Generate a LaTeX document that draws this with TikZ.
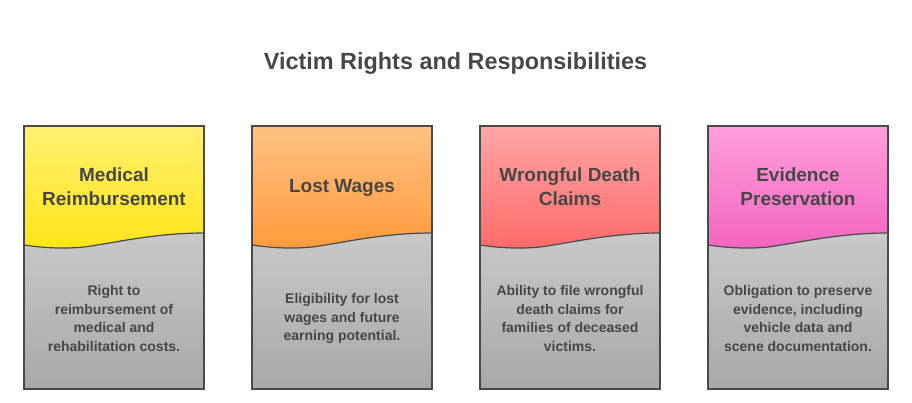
\documentclass[tikz,border=0pt]{standalone}
\usepackage{fontspec}
\setmainfont{Liberation Sans}
\definecolor{ink}{HTML}{474747}
\definecolor{frame}{HTML}{4A4A4A}
\definecolor{yellowtop}{HTML}{FFEF72}
\definecolor{yellowbot}{HTML}{FFE617}
\definecolor{orangetop}{HTML}{FFC283}
\definecolor{orangebot}{HTML}{FF9A3C}
\definecolor{redtop}{HTML}{FFA6A6}
\definecolor{redbot}{HTML}{FF6A6A}
\definecolor{pinktop}{HTML}{FF9FDB}
\definecolor{pinkbot}{HTML}{F264C0}
\definecolor{greytop}{HTML}{C9C9C9}
\definecolor{greybot}{HTML}{A8A8A8}
\begin{document}
\begin{tikzpicture}[x=1pt,y=-1pt,
	heading/.style={font=\bfseries\fontsize{19}{24}\selectfont,text=ink,align=center},
	bodytext/.style={font=\bfseries\fontsize{14}{18.6}\selectfont,text=ink,align=center},
	edge/.style={draw=frame,line width=1.5pt},
	wave/.style={draw=frame,line width=1.2pt}]
		\useasboundingbox (0,0) rectangle (912,402);
		\node[font=\bfseries\fontsize{23.4}{28}\selectfont,text=ink] (title) at (455.5,63.5) {Victim Rights and Responsibilities};
		% card 1
		\fill[top color=yellowtop,bottom color=yellowbot] (24,126) -- (204,126) -- (204,233) .. controls (154,233) and (114,243) .. (84,247) .. controls (64,249) and (44,248) .. (24,245) -- cycle;
		\fill[top color=greytop,bottom color=greybot] (24,245) .. controls (44,248) and (64,249) .. (84,247) .. controls (114,243) and (154,233) .. (204,233) -- (204,389) -- (24,389) -- cycle;
		\draw[wave] (24,245) .. controls (44,248) and (64,249) .. (84,247) .. controls (114,243) and (154,233) .. (204,233);
		\draw[edge] (24,126) rectangle (204,389);
		\node[heading] (medical) at (114,186.5) {Medical\\Reimbursement};
		\node[bodytext] (medicaltxt) at (114,318.5) {Right to\\reimbursement of\\medical and\\rehabilitation costs.};
		% card 2
		\fill[top color=orangetop,bottom color=orangebot] (252,126) -- (432,126) -- (432,233) .. controls (382,233) and (342,243) .. (312,247) .. controls (292,249) and (272,248) .. (252,245) -- cycle;
		\fill[top color=greytop,bottom color=greybot] (252,245) .. controls (272,248) and (292,249) .. (312,247) .. controls (342,243) and (382,233) .. (432,233) -- (432,389) -- (252,389) -- cycle;
		\draw[wave] (252,245) .. controls (272,248) and (292,249) .. (312,247) .. controls (342,243) and (382,233) .. (432,233);
		\draw[edge] (252,126) rectangle (432,389);
		\node[heading] (wages) at (342,187.5) {Lost Wages};
		\node[bodytext] (wagestxt) at (342,318.5) {Eligibility for lost\\wages and future\\earning potential.};
		% card 3
		\fill[top color=redtop,bottom color=redbot] (480,126) -- (660,126) -- (660,233) .. controls (610,233) and (570,243) .. (540,247) .. controls (520,249) and (500,248) .. (480,245) -- cycle;
		\fill[top color=greytop,bottom color=greybot] (480,245) .. controls (500,248) and (520,249) .. (540,247) .. controls (570,243) and (610,233) .. (660,233) -- (660,389) -- (480,389) -- cycle;
		\draw[wave] (480,245) .. controls (500,248) and (520,249) .. (540,247) .. controls (570,243) and (610,233) .. (660,233);
		\draw[edge] (480,126) rectangle (660,389);
		\node[heading] (death) at (570,186.5) {Wrongful Death\\Claims};
		\node[bodytext] (deathtxt) at (570,318.5) {Ability to file wrongful\\death claims for\\families of deceased\\victims.};
		% card 4
		\fill[top color=pinktop,bottom color=pinkbot] (708,126) -- (888,126) -- (888,233) .. controls (838,233) and (798,243) .. (768,247) .. controls (748,249) and (728,248) .. (708,245) -- cycle;
		\fill[top color=greytop,bottom color=greybot] (708,245) .. controls (728,248) and (748,249) .. (768,247) .. controls (798,243) and (838,233) .. (888,233) -- (888,389) -- (708,389) -- cycle;
		\draw[wave] (708,245) .. controls (728,248) and (748,249) .. (768,247) .. controls (798,243) and (838,233) .. (888,233);
		\draw[edge] (708,126) rectangle (888,389);
		\node[heading] (evidence) at (798,186.5) {Evidence\\Preservation};
		\node[bodytext] (evidencetxt) at (798,318.5) {Obligation to preserve\\evidence, including\\vehicle data and\\scene documentation.};
	\end{tikzpicture}
\end{document}
